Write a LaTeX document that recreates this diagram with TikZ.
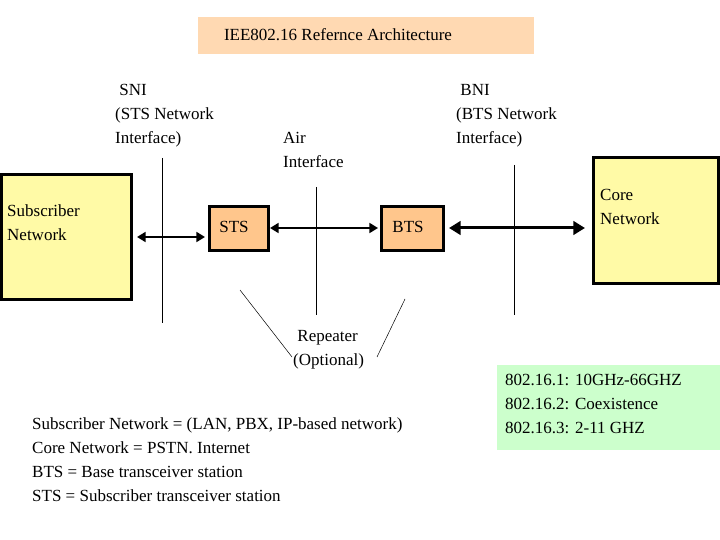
\documentclass[tikz,border=0pt]{standalone}
\usepackage{fontspec}
\setmainfont{Liberation Serif}
\usetikzlibrary{arrows.meta}
\begin{document}
\begin{tikzpicture}[x=1pt,y=-1pt,
  txt/.style={inner sep=0pt,align=left,font=\fontsize{17}{24}\selectfont},
  ybox/.style={draw=black,line width=3pt,fill=yellow!35!white},
  obox/.style={draw=black,line width=3pt,fill=orange!45!white},
  arr/.style={{Triangle[]}-{Triangle[]},line width=2pt},
  vl/.style={line width=0.5pt}]
\useasboundingbox (0,0) rectangle (720,540);
\fill[orange!30!white] (198,17) rectangle (534,54);
\node[txt] (title) at (338,35) {IEE802.16 Refernce Architecture};
\node[txt,anchor=north west] (sni) at (115,84) {\ SNI\\(STS Network\\Interface)};
\node[txt,anchor=north west] (air) at (283,132) {Air\\Interface};
\node[txt,anchor=north west] (bni) at (456,84) {\ BNI\\(BTS Network\\Interface)};
\draw[ybox] (1.5,175) rectangle (131.5,299);
\node[txt,anchor=north west] (sub) at (7,205) {Subscriber\\Network};
\draw[ybox] (593.5,158) rectangle (718.5,283);
\node[txt,anchor=north west] (core) at (600,189) {Core\\Network};
\draw[obox] (209.5,207) rectangle (268.5,250);
\node[txt] (sts) at (234,227) {STS};
\draw[obox] (381.5,207) rectangle (443.5,250);
\node[txt] (bts) at (408,227) {BTS};
\coordinate (s1) at (137,237); \coordinate (s2) at (205,237);
\draw[arr] (s1) -- (s2);
\coordinate (a1) at (270,228); \coordinate (a2) at (378,228);
\draw[arr] (a1) -- (a2);
\coordinate (b1) at (449,228); \coordinate (b2) at (585,228);
\draw[arr,line width=3pt] (b1) -- (b2);
\draw[vl] (162,158) -- (162,323);
\draw[vl] (316,187) -- (316,315);
\draw[vl] (514,165) -- (514,315);
\node[txt,anchor=north west] (rep) at (293,330) {\ Repeater\\(Optional)};
\draw[vl] (240,290) -- (292,357);
\draw[vl] (405,299) -- (377,357);
\fill[green!20!white] (497,365) rectangle (720,450);
\node[txt,anchor=north west] (std) at (505,374) {802.16.1: 10GHz-66GHZ\\802.16.2: Coexistence\\802.16.3: 2-11 GHZ};
\node[txt,anchor=north west] (leg) at (32,418) {Subscriber Network = (LAN, PBX, IP-based network)\\Core Network = PSTN. Internet\\BTS = Base transceiver station\\STS = Subscriber transceiver station};
\end{tikzpicture}
\end{document}
